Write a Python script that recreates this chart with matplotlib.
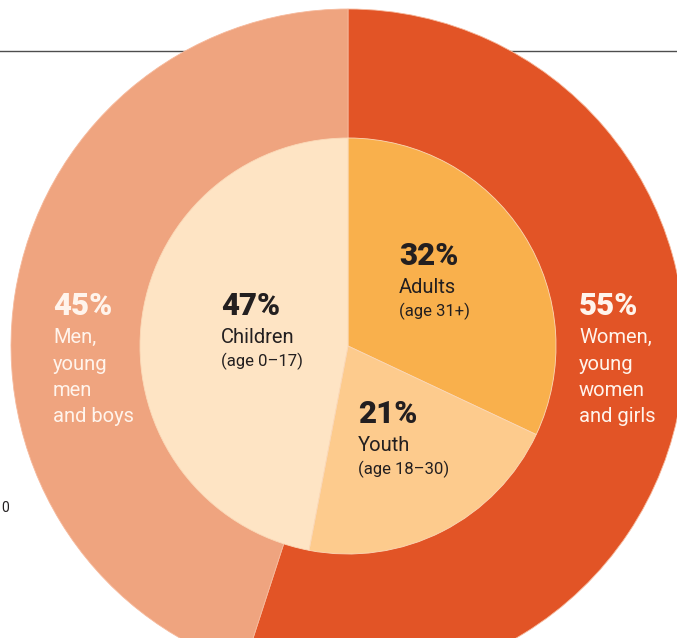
import matplotlib.pyplot as plt

plt.rcParams['font.family'] = ['Roboto', 'DejaVu Sans']

# outer ring: sex
sex_labels = ['Women,\nyoung\nwomen\nand girls', 'Men,\nyoung\nmen\nand boys']
sex_share = [55, 45]
sex_colors = ['#E25426', '#EFA47F']

# inner pie: age group
age_labels = ['Adults', 'Youth', 'Children']
age_ranges = ['(age 31+)', '(age 18\u201330)', '(age 0\u201317)']
age_share = [32, 21, 47]
age_colors = ['#F9B04C', '#FDCB8D', '#FEE4C4']

W, H = 677, 638
fig = plt.figure(figsize=(W / 100, H / 100), dpi=100)
ax = fig.add_axes([0, 0, 1, 1])

cx, cy = 348, H - 346

# thin rule behind the chart
ax.plot([0, W], [H - 51, H - 51], color='#4d4d4d', lw=1.0, zorder=0)

ax.pie(sex_share, colors=sex_colors, startangle=90, counterclock=False,
       center=(cx, cy), radius=337, frame=True,
       wedgeprops=dict(edgecolor='#F6B99C', linewidth=0.6))
ax.pie(age_share, colors=age_colors, startangle=90, counterclock=False,
       center=(cx, cy), radius=208, frame=True,
       wedgeprops=dict(edgecolor='#FBD9B8', linewidth=0.6))
ax.set_xlim(0, W)
ax.set_ylim(0, H)
ax.set_aspect('equal')
ax.axis('off')

dark = '#231F20'
light = '#FFF4EC'


def label(x, y_pct, pct, lines, color, small=None):
    ax.text(x, H - y_pct, f'{pct}%', fontsize=22.5, fontweight='heavy',
            color=color, va='baseline', ha='left')
    y = y_pct + 28
    for ln in lines:
        ax.text(x, H - y, ln, fontsize=14.5, color=color,
                va='baseline', ha='left')
        y += 26.5
    if small is not None:
        ax.text(x, H - (y - 3), small, fontsize=12, color=dark,
                va='baseline', ha='left')


# outer labels
label(579, 315, sex_share[0], sex_labels[0].split('\n'), light)
label(53, 315, sex_share[1], sex_labels[1].split('\n'), light)

# inner labels
label(399, 265, age_share[0], [age_labels[0]], dark, age_ranges[0])
label(358, 423, age_share[1], [age_labels[1]], dark, age_ranges[1])
label(221, 315, age_share[2], [age_labels[2]], dark, age_ranges[2])

# fragment of a neighbouring label at the left edge
ax.text(1, H - 512, '0', fontsize=10, color=dark, va='baseline', ha='left')

fig.savefig('out.png', dpi=100)
